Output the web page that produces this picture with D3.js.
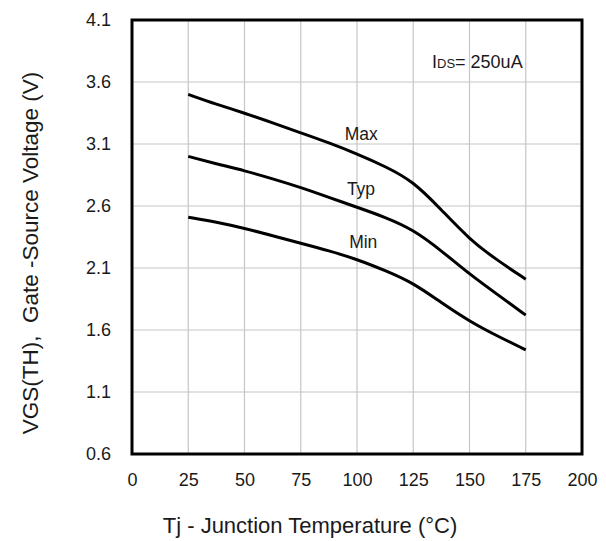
<!DOCTYPE html>
<html>
<head>
<meta charset="utf-8">
<script src="https://cdn.jsdelivr.net/npm/d3@7"></script>
<style>
  html, body { margin: 0; padding: 0; background: #fff; }
  svg { display: block; font-family: "Liberation Sans", Arial, sans-serif; }
</style>
</head>
<body>
<svg id="chart" width="606" height="541"></svg>
<script>
// Junction temperature (°C) sample points
const temps = [25, 37.5, 50, 62.5, 75, 87.5, 100, 112.5, 125, 137.5, 150, 162.5, 175];
// Gate threshold voltage VGS(TH) in volts
const vMax = [3.50, 3.42, 3.35, 3.27, 3.19, 3.11, 3.02, 2.92, 2.80, 2.57, 2.33, 2.16, 2.01];
const vTyp = [3.00, 2.94, 2.885, 2.82, 2.75, 2.67, 2.59, 2.51, 2.41, 2.24, 2.05, 1.885, 1.72];
const vMin = [2.51, 2.47, 2.42, 2.36, 2.30, 2.24, 2.17, 2.08, 1.98, 1.82, 1.67, 1.55, 1.44];
const seriesNames = ["Max", "Typ", "Min"];
// label anchors in data units: [temperature, voltage at baseline]
const labelPos = [[94.5, 3.13], [95.5, 2.69], [96.5, 2.26]];

const xTicks = [0, 25, 50, 75, 100, 125, 150, 175, 200];
const yTicks = [0.6, 1.1, 1.6, 2.1, 2.6, 3.1, 3.6, 4.1];
const noteText = ["I", "DS", "= 250uA"];
const xTitle = "Tj - Junction Temperature (°C)";
const yTitle = "VGS(TH),  Gate -Source Voltage (V)";

const svg = d3.select("#chart");
const plotLeft = 132, plotTop = 20, plotRight = 582, plotBottom = 454;

const x = d3.scaleLinear().domain([0, 200]).range([plotLeft, plotRight]);
const y = d3.scaleLinear().domain([0.6, 4.1]).range([plotBottom, plotTop]);

// grid
const grid = svg.append("g").attr("stroke", "#c6c6c6").attr("stroke-width", 1.2);
grid.selectAll("line.v").data(xTicks.slice(1, -1)).join("line")
  .attr("x1", d => x(d)).attr("x2", d => x(d)).attr("y1", plotTop).attr("y2", plotBottom);
grid.selectAll("line.h").data(yTicks.slice(1, -1)).join("line")
  .attr("x1", plotLeft).attr("x2", plotRight).attr("y1", d => y(d)).attr("y2", d => y(d));

// axes (labels only, frame drawn separately)
const xAxis = svg.append("g").attr("transform", `translate(0,${plotBottom})`)
  .call(d3.axisBottom(x).tickValues(xTicks).tickFormat(d3.format("d")).tickSize(0).tickPadding(19));
const yAxis = svg.append("g").attr("transform", `translate(${plotLeft},0)`)
  .call(d3.axisLeft(y).tickValues(yTicks).tickFormat(d3.format(".1f")).tickSize(0).tickPadding(21));
[xAxis, yAxis].forEach(a => {
  a.select(".domain").remove();
  a.selectAll("text").attr("font-size", 18).attr("fill", "#1a1a1a")
    .attr("font-family", "'Liberation Sans', Arial, sans-serif");
});

// frame
svg.append("rect").attr("x", plotLeft).attr("y", plotTop)
  .attr("width", plotRight - plotLeft).attr("height", plotBottom - plotTop)
  .attr("fill", "none").attr("stroke", "#000").attr("stroke-width", 3);

// curves
const line = d3.line().x((d, i) => x(temps[i])).y(d => y(d)).curve(d3.curveBasis);
svg.append("g").selectAll("path").data([vMax, vTyp, vMin]).join("path")
  .attr("d", line).attr("fill", "none").attr("stroke", "#000").attr("stroke-width", 3)
  .attr("stroke-linecap", "butt");

// curve labels
svg.append("g").selectAll("text").data(seriesNames).join("text")
  .attr("x", (d, i) => x(labelPos[i][0])).attr("y", (d, i) => y(labelPos[i][1]))
  .attr("font-size", 17.5).attr("fill", "#1a1a1a").text(d => d);

// test-condition note
const note = svg.append("text").attr("x", 432).attr("y", 68).attr("fill", "#1a1a1a").attr("font-size", 18);
note.append("tspan").text(noteText[0]);
note.append("tspan").attr("font-size", 13).text(noteText[1]);
note.append("tspan").text(noteText[2]);

// axis titles
svg.append("text").attr("x", 310).attr("y", 533).attr("text-anchor", "middle")
  .attr("font-size", 22).attr("fill", "#1a1a1a").text(xTitle);
svg.append("text").attr("transform", "translate(38,253) rotate(-90)").attr("text-anchor", "middle")
  .attr("font-size", 22.5).attr("fill", "#1a1a1a").style("white-space", "pre").text(yTitle);
</script>
</body>
</html>
